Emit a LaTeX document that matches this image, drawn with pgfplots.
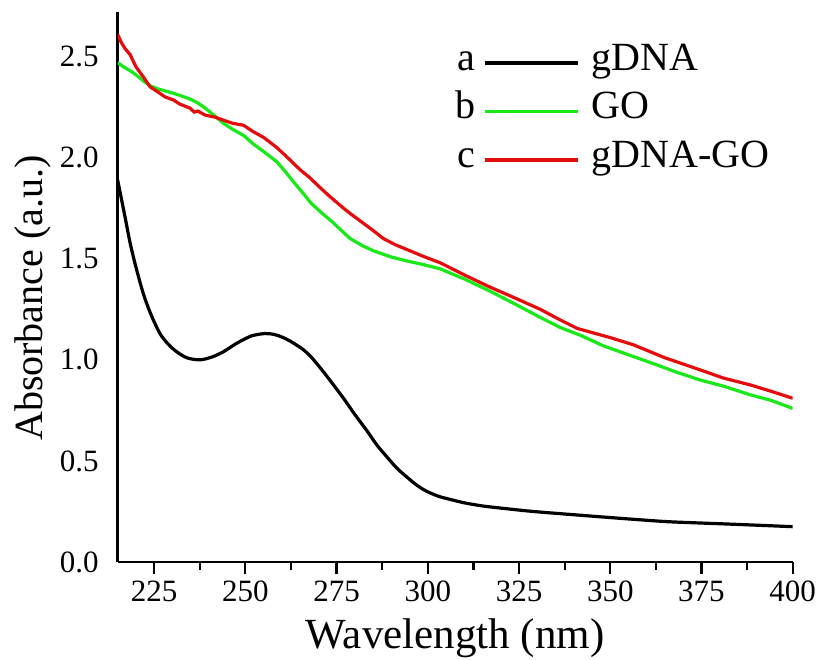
\documentclass[border=0pt]{standalone}
\usepackage{fontspec}
\setmainfont{Liberation Serif}
\usepackage{pgfplots}
\pgfplotsset{compat=1.18}
\definecolor{cgreen}{RGB}{25,232,25}
\definecolor{cred}{RGB}{228,12,12}

\pgfplotstableread{
x y
215 1.89
216 1.80
217 1.71
218.4 1.58
220 1.46
222 1.33
224 1.23
226.6 1.13
229 1.075
231.2 1.04
234 1.01
237.6 1.00
241 1.015
244 1.04
247 1.075
249.5 1.10
252 1.12
255.4 1.13
258 1.125
260.4 1.11
263 1.085
265.9 1.05
268 1.015
271 0.95
274 0.88
276.9 0.81
280 0.73
283.3 0.65
286 0.58
288.8 0.52
291.5 0.465
294.3 0.42
297 0.38
299.7 0.35
303 0.325
306.1 0.31
310 0.293
315.2 0.277
322 0.263
329 0.25
338 0.237
347.2 0.224
356 0.212
365.5 0.20
375 0.193
383.8 0.187
392 0.181
400 0.175
}\gdna

\pgfplotstableread{
x y
215 2.47
216.5 2.45
218.4 2.43
220 2.41
222 2.38
223.9 2.355
226 2.34
228 2.33
230.3 2.318
232 2.308
234.8 2.29
237 2.27
239 2.245
241.7 2.205
244 2.17
246.5 2.14
249.5 2.11
252 2.07
255 2.03
258.6 1.98
261 1.93
263.2 1.88
266 1.82
268 1.775
271 1.725
274 1.68
276 1.645
278.7 1.60
282 1.565
285 1.54
289.7 1.51
294 1.49
299 1.47
303.4 1.45
310 1.40
317 1.34
324 1.275
330.8 1.21
336.3 1.16
342 1.12
348 1.07
355 1.025
362 0.98
368 0.94
374.7 0.90
381 0.87
388.4 0.827
394 0.80
400 0.76
}\go

\pgfplotstableread{
x y
215 2.61
216 2.57
217 2.54
218.4 2.51
220 2.45
222 2.40
223.9 2.35
226 2.325
228 2.30
230.3 2.285
232 2.265
234.8 2.245
236 2.225
237 2.23
239 2.21
241.7 2.20
244 2.185
246.5 2.17
249.5 2.16
252 2.13
255 2.10
258.6 2.05
261 2.01
263 1.975
265 1.94
267.7 1.90
270 1.86
273 1.81
276.9 1.75
279 1.72
282 1.68
285 1.64
287.8 1.60
291 1.57
295 1.54
299 1.51
303.4 1.48
310 1.42
317 1.36
324 1.305
330.8 1.25
336 1.20
341 1.155
350 1.11
356.4 1.074
365 1.01
374.7 0.95
381 0.91
388.4 0.876
394 0.845
400 0.81
}\gdnago

\begin{document}
\begin{tikzpicture}
\begin{axis}[
  scale only axis, width=337.5pt, height=275pt,
  xmin=215, xmax=400, ymin=0, ymax=2.72,
  axis x line=bottom, axis y line=left,
  axis line style={line width=1.3pt, -},
  xtick={225,250,...,400}, minor x tick num=1,
  ytick={0,0.5,...,2.5},
  tick align=outside,
  every tick/.style={black, line width=1.1pt},
  major tick length=6pt, minor tick length=3.75pt,
  ytick style={draw=none},
  /pgf/number format/assume math mode=true,
  yticklabel style={/pgf/number format/.cd, fixed, fixed zerofill, precision=1},
  xticklabel style={/pgf/number format/.cd, fixed, 1000 sep={}},
  tick label style={font=\fontsize{15.5}{18}\selectfont},
  xlabel={Wavelength (nm)}, ylabel={Absorbance (a.u.)},
  xlabel style={font=\fontsize{21.5}{25}\selectfont, at={(axis description cs:0.5,-0.139)}, anchor=center},
  ylabel style={font=\fontsize{20}{24}\selectfont, at={(axis description cs:-0.1253,0.48)}, anchor=center},
  legend style={draw=none, fill=none, inner sep=0pt, outer sep=0pt,
    at={(axis description cs:0.50,0.9436)}, anchor=north west,
    font=\fontsize{20}{24}\selectfont, row sep=4.25pt, column sep=6pt,
    nodes={inner xsep=0pt, inner ysep=0pt, text height=13.5pt, text depth=6.5pt},
    cells={anchor=west}},
]
\addplot[black, line width=1.6pt, smooth,
  legend image code/.code={\draw[black, line width=1.8pt] (0pt,0pt) -- (46.5pt,0pt);
    \node[anchor=east, inner sep=0pt, text=black, text height=13.5pt, text depth=6.5pt] at (-5pt,0pt) {a};}]
  table[x=x,y=y] {\gdna};
\addlegendentry{gDNA}
\addplot[cgreen, line width=1.6pt,
  legend image code/.code={\draw[cgreen, line width=1.8pt] (0pt,0pt) -- (46.5pt,0pt);
    \node[anchor=east, inner sep=0pt, text=black, text height=13.5pt, text depth=6.5pt] at (-5pt,0pt) {b};}]
  table[x=x,y=y] {\go};
\addlegendentry{GO}
\addplot[cred, line width=1.6pt,
  legend image code/.code={\draw[cred, line width=1.8pt] (0pt,0pt) -- (46.5pt,0pt);
    \node[anchor=east, inner sep=0pt, text=black, text height=13.5pt, text depth=6.5pt] at (-5pt,0pt) {c};}]
  table[x=x,y=y] {\gdnago};
\addlegendentry{gDNA-GO}
\coordinate (bl) at (rel axis cs:0,0);
\coordinate (tr) at (rel axis cs:1,1);
\end{axis}
\pgfresetboundingbox
\path ([shift={(-58.8pt,-48.5pt)}]bl) rectangle ([shift={(14.65pt,6pt)}]tr);
\end{tikzpicture}
\end{document}
